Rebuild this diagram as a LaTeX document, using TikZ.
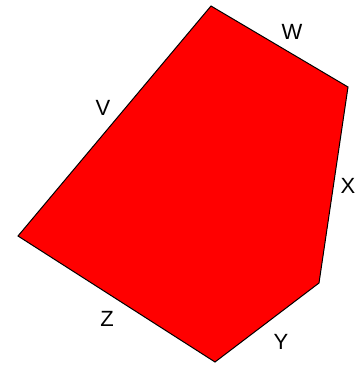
\documentclass[tikz,border=0pt]{standalone}
\usepackage{fontspec}
\setmainfont{Liberation Sans}
\begin{document}
\begin{tikzpicture}[x=1pt,y=-1pt,
  lbl/.style={font=\fontsize{22}{22}\selectfont, inner sep=0pt}]
\useasboundingbox (0,0) rectangle (356,367);
\coordinate (A) at (211,6);
\coordinate (B) at (348,87);
\coordinate (C) at (319,283);
\coordinate (D) at (215,362);
\coordinate (E) at (18,236);
\filldraw[fill=red, draw=black, line width=1pt] (A) -- (B) -- (C) -- (D) -- (E) -- cycle;
\node[lbl] (V) at (103,108) {V};
\node[lbl] (W) at (292,32) {W};
\node[lbl] (X) at (348,186) {X};
\node[lbl] (Y) at (281,342) {Y};
\node[lbl] (Z) at (107,319) {Z};
\end{tikzpicture}
\end{document}
